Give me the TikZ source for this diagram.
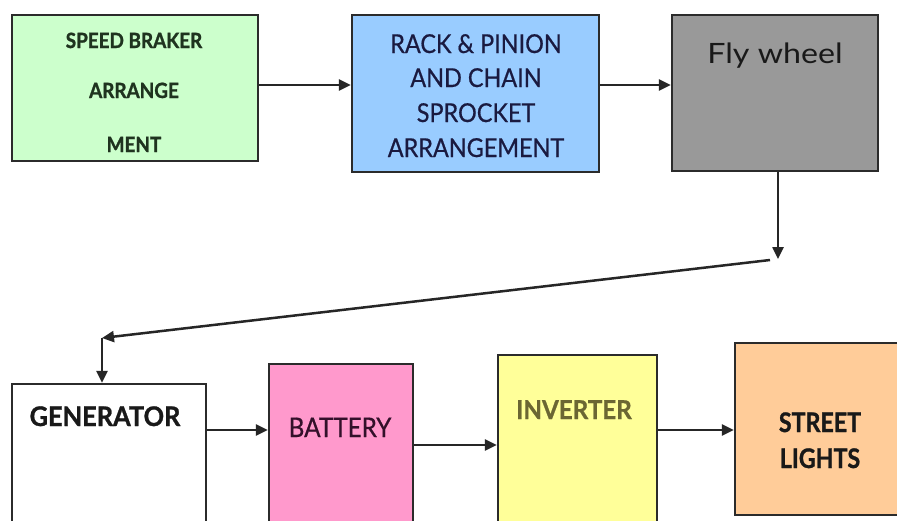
\documentclass[tikz,border=0pt]{standalone}
\usepackage{fontspec}
\setmainfont{Lato}
\usetikzlibrary{arrows.meta}
\definecolor{sbfill}{HTML}{CCFFCC}
\definecolor{rkfill}{HTML}{99CCFF}
\definecolor{fwfill}{HTML}{999999}
\definecolor{btfill}{HTML}{FF99CC}
\definecolor{ivfill}{HTML}{FFFF99}
\definecolor{slfill}{HTML}{FFCC99}
\definecolor{sbtext}{HTML}{1F331F}
\definecolor{rktext}{HTML}{1A1A40}
\definecolor{bttext}{HTML}{33102A}
\definecolor{ivtext}{HTML}{6B6633}
\definecolor{edge}{HTML}{2B2B2B}
\begin{document}
\begin{tikzpicture}[x=1pt,y=-1pt,
  blk/.style={draw=edge,line width=2.2pt,rectangle,inner sep=0pt},
  lbl/.style={inner sep=0pt,anchor=base},
  arr/.style={draw=black!85,line width=2.5pt,-{Triangle[length=12pt,width=11pt]}}]
\useasboundingbox (0,0) rectangle (897,520);
\clip (0,0) rectangle (897,520);
\fill[white] (0,0) rectangle (897,520);
% boxes
\node[blk,fill=sbfill,minimum width=246pt,minimum height=146pt] (sb) at (135,88) {};
\node[blk,fill=rkfill,minimum width=247pt,minimum height=157pt] (rk) at (475.5,93.5) {};
\node[blk,fill=fwfill,minimum width=206pt,minimum height=156pt] (fw) at (775,93) {};
\node[blk,fill=white,minimum width=194pt,minimum height=176pt] (gen) at (109,472) {};
\node[blk,fill=btfill,minimum width=144pt,minimum height=196pt] (bat) at (341,462) {};
\node[blk,fill=ivfill,minimum width=159pt,minimum height=205pt] (inv) at (577.5,457.5) {};
\node[blk,fill=slfill,minimum width=180pt,minimum height=172pt] (sl) at (825,429) {};
% labels
\node[lbl,text=sbtext] (sb1) at (134,48) {\fontsize{21}{25}\selectfont\bfseries\addfontfeature{FakeStretch=0.9,FakeBold=1.2}SPEED BRAKER};
\node[lbl,text=sbtext] (sb2) at (134,98) {\fontsize{21}{25}\selectfont\bfseries\addfontfeature{FakeStretch=0.9,FakeBold=1.2}ARRANGE};
\node[lbl,text=sbtext] (sb3) at (134,152) {\fontsize{21}{25}\selectfont\bfseries\addfontfeature{FakeStretch=0.9,FakeBold=1.2}MENT};
\node[lbl,text=rktext] (rk1) at (476,53) {\fontsize{26}{30}\selectfont\addfontfeature{FakeStretch=0.9,FakeBold=0.6}RACK \& PINION};
\node[lbl,text=rktext] (rk2) at (476,87) {\fontsize{26}{30}\selectfont\addfontfeature{FakeStretch=0.9,FakeBold=0.6}AND CHAIN};
\node[lbl,text=rktext] (rk3) at (476,122) {\fontsize{26}{30}\selectfont\addfontfeature{FakeStretch=0.9,FakeBold=0.6}SPROCKET};
\node[lbl,text=rktext] (rk4) at (476,157) {\fontsize{26}{30}\selectfont\addfontfeature{FakeStretch=0.9,FakeBold=0.6}ARRANGEMENT};
\node[lbl,text=black!90] (fw1) at (775,63) {\fontsize{28}{32}\selectfont\addfontfeature{FakeStretch=1.15}Fly wheel};
\node[lbl,text=black!90] (gen1) at (105,426) {\fontsize{27}{31}\selectfont\bfseries\addfontfeature{FakeStretch=0.94,FakeBold=1}GENERATOR};
\node[lbl,text=bttext] (bat1) at (340,437) {\fontsize{27}{31}\selectfont\addfontfeature{FakeStretch=0.9,FakeBold=0.6}BATTERY};
\node[lbl,text=ivtext] (inv1) at (574,419) {\fontsize{26}{30}\selectfont\bfseries\addfontfeature{FakeStretch=0.93,FakeBold=0.8}INVERTER};
\node[lbl,text=black!90] (sl1) at (820,432) {\fontsize{27}{31}\selectfont\bfseries\addfontfeature{FakeStretch=0.86,FakeBold=1}STREET};
\node[lbl,text=black!90] (sl2) at (820,468) {\fontsize{27}{31}\selectfont\bfseries\addfontfeature{FakeStretch=0.86,FakeBold=1}LIGHTS};
% connectors
\coordinate (r1) at (0,85);
\coordinate (d1) at (778,259);
\coordinate (d2) at (770,260);
\coordinate (d3) at (102,338);
\coordinate (r2) at (0,430);
\coordinate (r3) at (0,445);
\draw[arr] (sb.east |- r1) -- (rk.west |- r1);
\draw[arr] (rk.east |- r1) -- (fw.west |- r1);
\draw[arr] (fw.south -| d1) -- (d1);
\draw[arr] (d2) -- (d3);
\draw[arr] (d3) -- (gen.north -| d3);
\draw[arr] (gen.east |- r2) -- (bat.west |- r2);
\draw[arr] (bat.east |- r3) -- (inv.west |- r3);
\draw[arr] (inv.east |- r2) -- (sl.west |- r2);
\end{tikzpicture}
\end{document}
